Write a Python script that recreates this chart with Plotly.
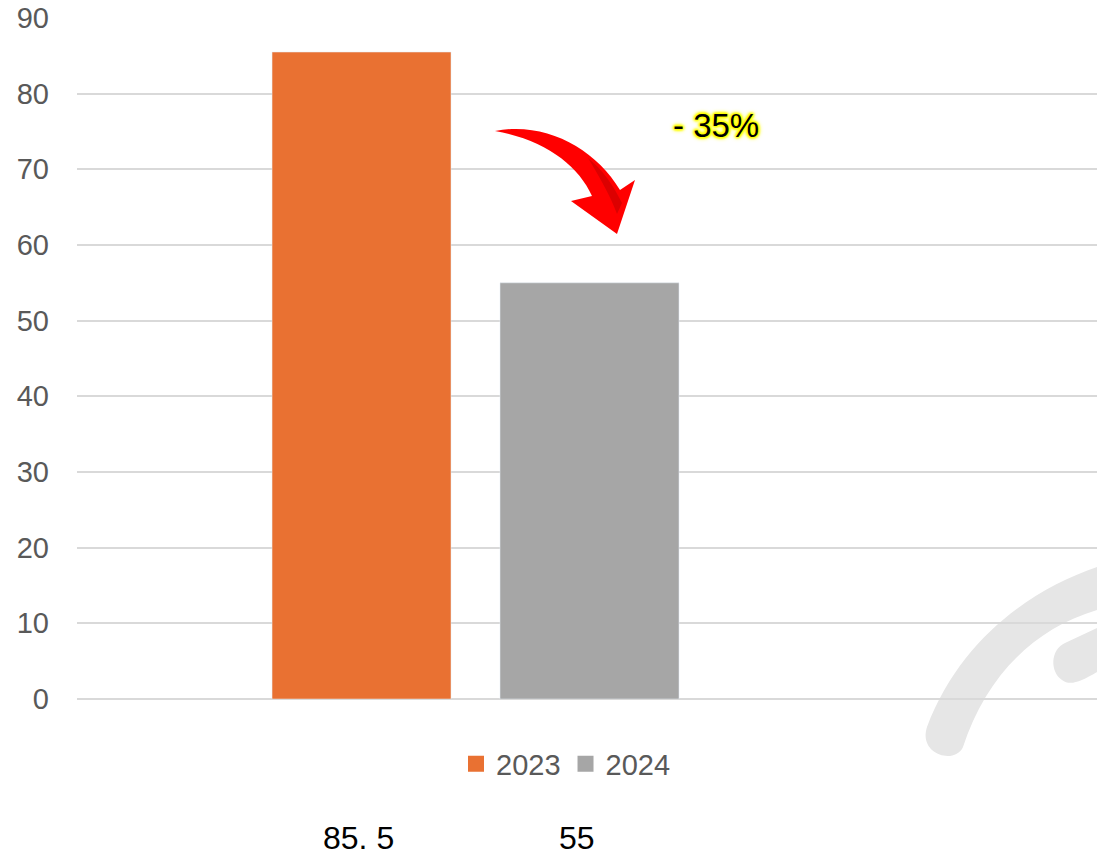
import plotly.graph_objects as go

# ---- data ----
years = ["2023", "2024"]
values = [85.5, 55]
bottom_labels = ["85. 5", "55"]
change_label = "- 35%"
y_ticks = [0, 10, 20, 30, 40, 50, 60, 70, 80, 90]
colors = ["#E97132", "#A6A6A6"]

W, H = 1097, 858
L, R, T, B = 77, 0, 18, 159
PW, PH = W - L - R, H - T - B


def px(x):
    return (x - L) / PW


def py(y):
    return (H - B - y) / PH


def path(cmds):
    out = []
    for c in cmds:
        if isinstance(c, str):
            out.append(c)
        else:
            out.append(f"{px(c[0]):.5f},{py(c[1]):.5f}")
    return " ".join(out)


fig = go.Figure()
for yr, v, c in zip(years, values, colors):
    fig.add_trace(go.Bar(x=[yr], y=[v], marker_color=c, width=0.785,
                         showlegend=False, name=yr))
for yr, c in zip(years, colors):
    fig.add_trace(go.Scatter(x=[None], y=[None], mode="markers", name=yr,
                             marker=dict(symbol="square", size=18, color=c)))

font_family = "Liberation Sans, Arial, sans-serif"

shapes = []
# watermark arc
shapes.append(dict(type="path", xref="paper", yref="paper", layer="below",
                   fillcolor="#e6e6e6", line=dict(width=0),
                   path=path(["M", (1097, 567), "C", (1030, 590), (960, 640), (927, 727),
                              "C", (918, 755), (955, 765), (963, 747),
                              "C", (985, 680), (1030, 630), (1097, 610), "Z"])))
shapes.append(dict(type="path", xref="paper", yref="paper", layer="below",
                   fillcolor="#e6e6e6", line=dict(width=0),
                   path=path(["M", (1097, 628), "L", (1065, 643),
                              "C", (1050, 650), (1050, 672), (1062, 680),
                              "C", (1070, 686), (1080, 682), (1097, 672), "Z"])))
# red curved arrow
shapes.append(dict(type="path", xref="paper", yref="paper", layer="above",
                   fillcolor="#ff0000", line=dict(width=0),
                   path=path(["M", (495, 131), "C", (545, 121), (595, 148), (620, 190),
                              "L", (635, 180), "L", (617, 234), "L", (571, 201), "L", (592, 196),
                              "C", (578, 165), (545, 140), (495, 131), "Z"])))
shapes.append(dict(type="path", xref="paper", yref="paper", layer="above",
                   fillcolor="#c00000", opacity=0.55, line=dict(width=0),
                   path=path(["M", (588, 158), "C", (603, 170), (613, 185), (622, 203),
                              "L", (617, 214), "C", (610, 195), (600, 178), (588, 158), "Z"])))

glow = ", ".join(["0 0 3px #ffff00"] * 6 + ["0 0 5px #ffff00"] * 2)
annotations = [
    dict(text=change_label, xref="paper", yref="paper", x=px(716), y=py(125),
         showarrow=False, xanchor="center", yanchor="middle",
         font=dict(family=font_family, size=33, color="#000000", shadow=glow)),
]
for lab, xp in zip(bottom_labels, [358, 577]):
    annotations.append(dict(text=lab, xref="paper", yref="paper", x=px(xp), y=py(838),
                            showarrow=False, xanchor="center", yanchor="middle",
                            font=dict(family=font_family, size=32, color="#000000")))

fig.update_layout(
    width=W, height=H, autosize=False,
    margin=dict(l=L, r=R, t=T, b=B, pad=0),
    paper_bgcolor="white", plot_bgcolor="rgba(0,0,0,0)",
    barmode="overlay",
    font=dict(family=font_family),
    xaxis=dict(visible=False, range=[-1.248, 3.226], fixedrange=True),
    yaxis=dict(range=[0, 90], tickvals=y_ticks, showgrid=True, gridcolor="#d9d9d9",
               gridwidth=2, zeroline=True, zerolinecolor="#d9d9d9", zerolinewidth=2,
               showline=False, ticks="", ticklabelstandoff=27,
               tickfont=dict(size=29, color="#595959", family=font_family)),
    legend=dict(orientation="h", x=px(566), xanchor="center", y=py(764), yanchor="middle",
                font=dict(size=29, color="#595959", family=font_family),
                itemwidth=30, bgcolor="rgba(0,0,0,0)", traceorder="normal"),
    shapes=shapes,
    annotations=annotations,
)

fig.write_html("out.html")
